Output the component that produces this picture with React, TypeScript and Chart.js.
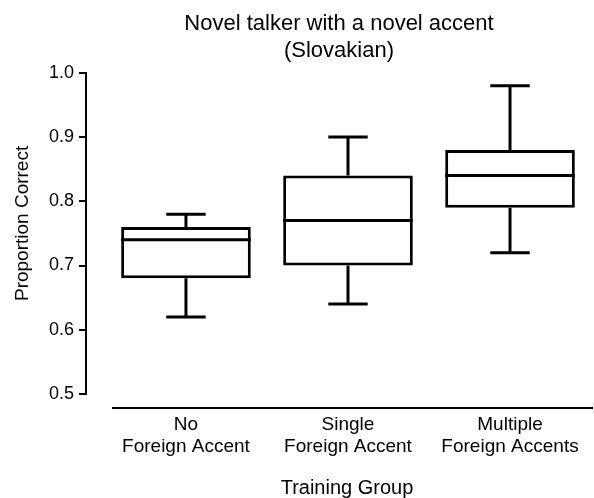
import React, { useEffect, useRef } from 'react';
import { Chart, registerables } from 'chart.js';

Chart.register(...registerables);

// ---- Data ----
const groupLabels: string[][] = [
  ['No', 'Foreign Accent'],
  ['Single', 'Foreign Accent'],
  ['Multiple', 'Foreign Accents'],
];
const whiskerLow = [0.62, 0.64, 0.72];
const quartile1 = [0.68, 0.70, 0.79];
const medians = [0.74, 0.77, 0.84];
const quartile3 = [0.76, 0.84, 0.88];
const whiskerHigh = [0.78, 0.90, 0.98];
const yTickValues = [0.5, 0.6, 0.7, 0.8, 0.9, 1.0];
const chartTitle = ['Novel talker with a novel accent', '(Slovakian)'];
const yTitle = 'Proportion Correct';
const xTitle = 'Training Group';

const FONT = "'Liberation Sans', Arial, Helvetica, sans-serif";

const boxPlugin = {
  id: 'boxWhiskers',
  afterDatasetsDraw(chart: any) {
    const meta = chart.getDatasetMeta(0);
    const yScale = chart.scales.y;
    const ctx = chart.ctx;
    ctx.save();
    ctx.strokeStyle = '#000';
    ctx.lineWidth = 3;
    ctx.lineCap = 'butt';
    meta.data.forEach((bar: any, i: number) => {
      const { x, width } = bar.getProps(['x', 'width'], true);
      const half = width / 2;
      const capHalf = width * 0.152;
      const yMed = yScale.getPixelForValue(medians[i]);
      const yQ1 = yScale.getPixelForValue(quartile1[i]);
      const yQ3 = yScale.getPixelForValue(quartile3[i]);
      const yLo = yScale.getPixelForValue(whiskerLow[i]);
      const yHi = yScale.getPixelForValue(whiskerHigh[i]);
      ctx.beginPath();
      ctx.moveTo(x - half, yMed);
      ctx.lineTo(x + half, yMed);
      ctx.moveTo(x, yQ3);
      ctx.lineTo(x, yHi);
      ctx.moveTo(x - capHalf, yHi);
      ctx.lineTo(x + capHalf, yHi);
      ctx.moveTo(x, yQ1);
      ctx.lineTo(x, yLo);
      ctx.moveTo(x - capHalf, yLo);
      ctx.lineTo(x + capHalf, yLo);
      ctx.stroke();
    });
    // detached x-axis baseline
    const area = chart.chartArea;
    ctx.lineWidth = 2;
    ctx.beginPath();
    ctx.moveTo(area.left + 26, area.bottom + 14);
    ctx.lineTo(chart.width - 1, area.bottom + 14);
    ctx.stroke();

    // axis titles
    ctx.fillStyle = '#000';
    ctx.textAlign = 'center';
    ctx.textBaseline = 'middle';
    ctx.font = `20px ${FONT}`;
    ctx.fillText(xTitle, (area.left + area.right) / 2 + 8, chart.height - 10);
    ctx.font = `19px ${FONT}`;
    ctx.translate(23, (area.top + area.bottom) / 2 - 10);
    ctx.rotate(-Math.PI / 2);
    ctx.fillText(yTitle, 0, 0);
    ctx.restore();
  },
};

export default function App() {
  const canvasRef = useRef<HTMLCanvasElement | null>(null);

  useEffect(() => {
    document.body.style.margin = '0';
    const canvas = canvasRef.current;
    if (!canvas) return;
    const chart = new Chart(canvas, {
      type: 'bar',
      data: {
        datasets: [
          {
            data: groupLabels.map((_, i) => ({ x: i, y: [quartile1[i], quartile3[i]] })) as any,
            backgroundColor: '#fff',
            borderColor: '#000',
            borderWidth: 3,
            borderSkipped: false,
            barPercentage: 0.8,
            categoryPercentage: 1.0,
          },
        ],
      },
      options: {
        responsive: false,
        animation: false,
        devicePixelRatio: 1,
        layout: { padding: { left: 0, right: 2, top: 0, bottom: 0 } },
        plugins: {
          legend: { display: false },
          tooltip: { enabled: false },
          title: {
            display: true,
            text: chartTitle,
            fullSize: false,
            color: '#000',
            font: { family: FONT, size: 22, weight: 'normal', lineHeight: 1.2 },
            padding: { top: 11, bottom: 9 },
          },
        },
        scales: {
          x: {
            type: 'linear',
            offset: false,
            min: -0.617,
            max: 2.506,
            afterBuildTicks: (scale: any) => {
              scale.ticks = groupLabels.map((_, i) => ({ value: i }));
            },
            afterFit: (scale: any) => {
              scale.height = 104;
              scale.paddingLeft = 0;
              scale.paddingRight = 0;
            },
            ticks: {
              color: '#000',
              font: { family: FONT, size: 19, lineHeight: 1.2 },
              padding: 19,
              maxRotation: 0,
              autoSkip: false,
              callback: (v: any) => groupLabels[Math.round(Number(v))] ?? '',
            },
            grid: { display: false, drawTicks: false, offset: false },
            border: { display: false },
            title: { display: false },
          },
          y: {
            type: 'linear',
            min: 0.5,
            max: 1.0,
            afterBuildTicks: (scale: any) => {
              scale.ticks = yTickValues.map((v) => ({ value: v }));
            },
            afterFit: (scale: any) => {
              scale.width = 86;
            },
            ticks: {
              color: '#000',
              font: { family: FONT, size: 18 },
              padding: 5,
              callback: (v: any) => Number(v).toFixed(1),
            },
            grid: {
              display: true,
              drawOnChartArea: false,
              drawTicks: true,
              tickLength: 7,
              color: '#000',
              lineWidth: 2,
            },
            border: { display: true, color: '#000', width: 2 },
            title: { display: false },
          },
        },
      } as any,
      plugins: [boxPlugin],
    });
    return () => chart.destroy();
  }, []);

  return (
    <div style={{ width: 594, height: 498, background: '#fff' }}>
      <canvas ref={canvasRef} width={594} height={498} />
    </div>
  );
}
